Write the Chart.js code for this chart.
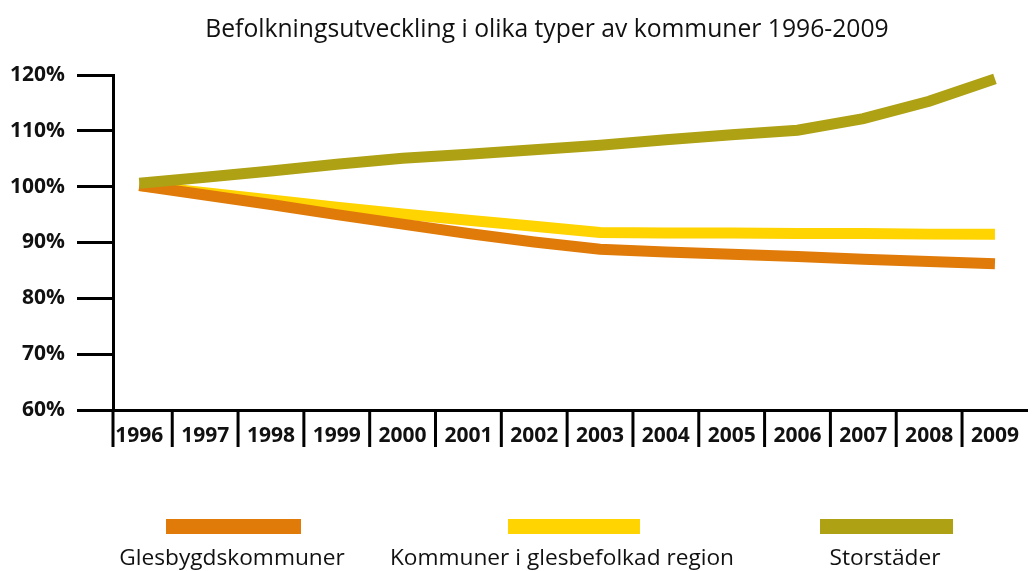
<!DOCTYPE html>
<html><head><meta charset="utf-8">
<script src="https://cdn.jsdelivr.net/npm/chart.js@4/dist/chart.umd.min.js"></script>
<style>
html,body{margin:0;padding:0;background:#fff;}
#wrap{position:relative;width:1032px;height:571px;overflow:hidden;background:#fff;}
canvas{position:absolute;left:0;top:0;}
.sw{position:absolute;height:15px;top:519px;}
.lb{position:absolute;top:542px;height:30px;line-height:30px;transform:translateX(-50%);white-space:nowrap;font-family:'Open Sans',sans-serif;color:#111;}
#title{position:absolute;left:547px;top:13px;height:30px;line-height:30px;transform:translateX(-50%);white-space:nowrap;font-family:'Open Sans',sans-serif;color:#111;}
</style></head><body>
<div id="wrap"><canvas id="c" width="1032" height="571"></canvas><div id="title"></div><div id="legend"></div></div>
<script>
// ---- data ----
const years = [1996,1997,1998,1999,2000,2001,2002,2003,2004,2005,2006,2007,2008,2009];
const glesbygdskommuner = [100.2,98.5,96.8,95.0,93.3,91.6,90.1,88.8,88.3,87.9,87.5,87.0,86.6,86.2];
const glesbefolkadRegion = [100.2,98.9,97.6,96.3,95.1,94.0,92.9,91.8,91.7,91.7,91.6,91.6,91.5,91.5];
const storstader = [100.6,101.7,102.8,104.0,105.1,105.8,106.6,107.4,108.4,109.3,110.1,112.2,115.3,119.3];
const seriesNames = ['Glesbygdskommuner','Kommuner i glesbefolkad region','Storstäder'];
const yTickValues = [60,70,80,90,100,110,120];
const titleText = 'Befolkningsutveckling i olika typer av kommuner 1996-2009';

const COLORS = ['#E07B0A','#FFD400','#AEA114'];

// fit font size to a target width
const mctx = document.createElement('canvas').getContext('2d');
function fitSize(text, weight, family, target){
  mctx.font = weight + ' 100px ' + family;
  return Math.round(100 * target / mctx.measureText(text).width * 10) / 10;
}
const FAM = "'Open Sans'";
const titleSize = fitSize(titleText, 'normal', FAM, 685);
const yLabSize = fitSize('120%', 'bold', FAM, 55);
const xLabSize = fitSize('1996', 'bold', FAM, 48);
const legSize = fitSize(seriesNames[1], 'normal', FAM, 344);

const t = document.getElementById('title');
t.textContent = titleText; t.style.fontSize = titleSize + 'px';

// legend (HTML)
const legendPos = [{bar:[166,301], c:232},{bar:[508,640], c:562},{bar:[820,953], c:885}];
const leg = document.getElementById('legend');
seriesNames.forEach((n,i)=>{
  const p = legendPos[i];
  const sw = document.createElement('div');
  sw.className='sw'; sw.style.left=p.bar[0]+'px'; sw.style.width=(p.bar[1]-p.bar[0])+'px'; sw.style.background=COLORS[i];
  leg.appendChild(sw);
  const lb = document.createElement('div');
  lb.className='lb'; lb.style.left=p.c+'px'; lb.style.fontSize=legSize+'px'; lb.textContent=n;
  leg.appendChild(lb);
});

const mk = arr => years.map((y,i)=>({x:y, y:arr[i]}));

const separators = {
  id:'separators',
  afterDraw(chart){
    const {ctx, chartArea, scales:{x}} = chart;
    ctx.save();
    ctx.strokeStyle='#000'; ctx.lineWidth=3;
    const xs = [chartArea.left].concat(years.slice(0,-1).map(y=>x.getPixelForValue(y+0.5)));
    xs.forEach(px=>{
      ctx.beginPath();
      ctx.moveTo(px, chartArea.bottom);
      ctx.lineTo(px, chartArea.bottom+37);
      ctx.stroke();
    });
    ctx.restore();
  }
};

new Chart(document.getElementById('c'), {
  type:'line',
  data:{datasets:[
    {label:seriesNames[0], data:mk(glesbygdskommuner), borderColor:COLORS[0], order:1},
    {label:seriesNames[1], data:mk(glesbefolkadRegion), borderColor:COLORS[1], order:2},
    {label:seriesNames[2], data:mk(storstader), borderColor:COLORS[2], order:0}
  ]},
  options:{
    responsive:false, animation:false, devicePixelRatio:1,
    layout:{padding:{left:0,right:1,top:75,bottom:120}},
    elements:{line:{borderWidth:11, tension:0, borderCapStyle:'butt', borderJoinStyle:'miter', fill:false}, point:{radius:0}},
    datasets:{line:{clip:false}},
    plugins:{
      legend:{display:false}, tooltip:{enabled:false}, title:{display:false}
    },
    scales:{
      x:{type:'linear', min:1995.6, max:2009.49,
        afterBuildTicks:s=>{s.ticks = years.map(v=>({value:v}));},
        afterFit:s=>{s.height=41;},
        grid:{display:false, drawTicks:false},
        border:{display:true, color:'#000', width:3},
        ticks:{color:'#111', padding:13, maxRotation:0, autoSkip:false, font:{family:FAM, size:xLabSize, weight:'bold'}, callback:v=>String(v)}
      },
      y:{min:60, max:120,
        afterBuildTicks:s=>{s.ticks = yTickValues.map(v=>({value:v}));},
        afterFit:s=>{s.width=113;},
        grid:{drawOnChartArea:false, drawTicks:true, tickLength:36, color:'#000', lineWidth:3},
        border:{display:true, color:'#000', width:3},
        ticks:{color:'#111', padding:12, font:{family:FAM, size:yLabSize, weight:'bold'}, callback:v=>v+'%'}
      }
    }
  },
  plugins:[separators]
});
</script>
</body></html>
